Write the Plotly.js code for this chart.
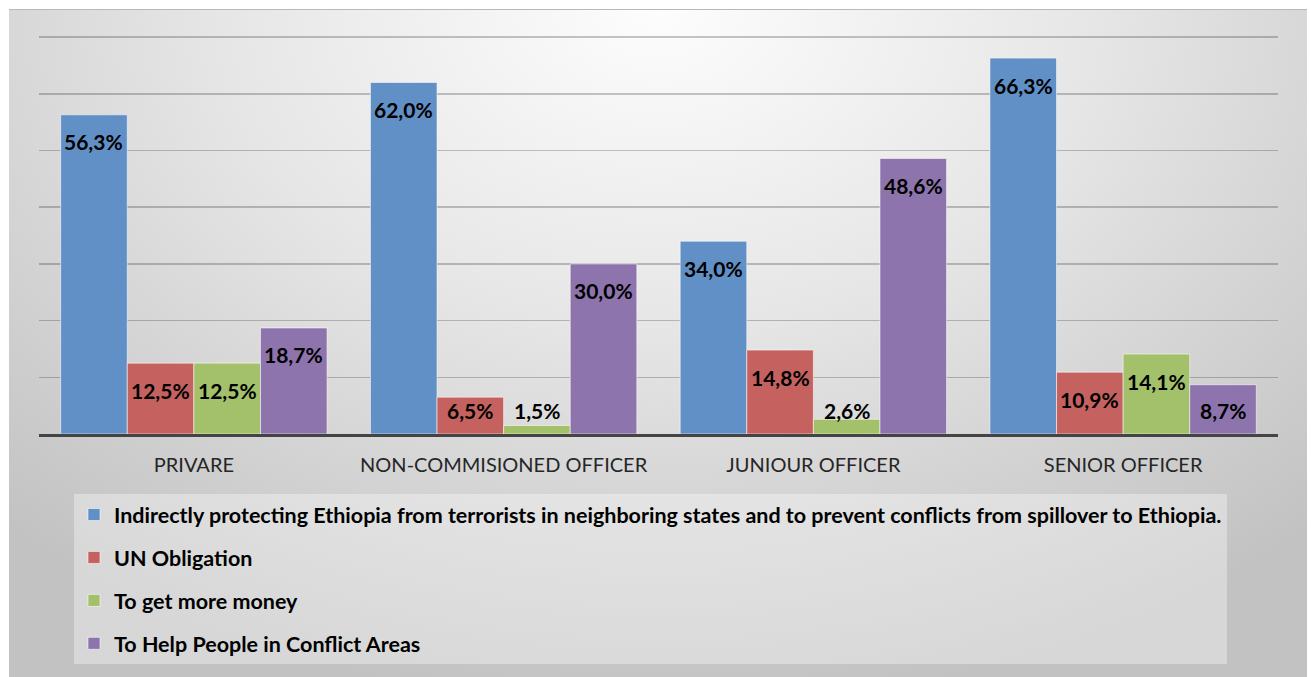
<!DOCTYPE html>
<html>
<head>
<meta charset="utf-8">
<script src="https://cdn.plot.ly/plotly-3.0.1.min.js"></script>
<style>
  html, body { margin: 0; padding: 0; background: #ffffff; }
  #bg {
    position: absolute; left: 9px; top: 9px; width: 1298px; height: 668px;
    border-top: 1px solid #b9b9b9; box-sizing: border-box;
    background: radial-gradient(ellipse 75% 105% at 50% 0%, #fdfdfd 0%, #e6e6e6 45%, #d2d2d2 75%, #c2c2c2 100%);
  }
  #chart { position: absolute; left: 0; top: 0; width: 1311px; height: 677px; }
</style>
</head>
<body>
<div id="bg"></div>
<div id="chart"></div>
<script>
const categories = ['PRIVARE', 'NON-COMMISIONED OFFICER', 'JUNIOUR OFFICER', 'SENIOR OFFICER'];
const seriesNames = [
  'Indirectly protecting Ethiopia from terrorists in neighboring states and to prevent conflicts from spillover to Ethiopia.',
  'UN Obligation',
  'To get more money',
  'To Help People in Conflict Areas'
];
const indirectlyProtecting = [56.3, 62.0, 34.0, 66.3];
const unObligation = [12.5, 6.5, 14.8, 10.9];
const moreMoney = [12.5, 1.5, 2.6, 14.1];
const helpPeople = [18.7, 30.0, 48.6, 8.7];

const seriesValues = [indirectlyProtecting, unObligation, moreMoney, helpPeople];
const colors = ['#6190c6', '#c5625f', '#a3c06a', '#8e74ad'];

const W = 1311, H = 677;
const margin = {l: 39, r: 33, t: 36, b: 243, autoexpand: false};
const yMax = 70.2;
const bargap = 0.14;
const plotW = W - margin.l - margin.r;
const plotH = H - margin.t - margin.b;
const ppu = plotH / yMax;
const slot = plotW / categories.length * (1 - bargap) / seriesValues.length;

const fmt = v => v.toFixed(1).replace('.', ',') + '%';
const FONT = 'Lato, "Open Sans", sans-serif';

const traces = seriesValues.map((vals, i) => ({
  type: 'bar',
  name: seriesNames[i],
  x: categories,
  y: vals,
  legendgroup: 'g' + i,
  marker: {color: colors[i], line: {color: 'rgba(255,255,255,0.55)', width: 1}},
  hoverinfo: 'x+y'
}));

const annotations = [];
seriesValues.forEach((vals, i) => {
  vals.forEach((v, j) => {
    const h = v * ppu;
    annotations.push({
      x: categories[j], y: v, xref: 'x', yref: 'y',
      xshift: (i - (seriesValues.length - 1) / 2) * slot,
      yshift: -Math.min(27, h - 24),
      yanchor: 'middle', xanchor: 'center',
      text: '<b>' + fmt(v) + '</b>',
      showarrow: false,
      font: {family: FONT, size: 21, color: '#000000'}
    });
  });
});

const layout = {
  width: W, height: H,
  margin: margin,
  paper_bgcolor: 'rgba(0,0,0,0)',
  plot_bgcolor: 'rgba(0,0,0,0)',
  barmode: 'group',
  bargap: bargap,
  bargroupgap: 0,
  showlegend: true,
  legend: {
    xref: 'container', yref: 'container',
    x: 74 / W, y: 1 - 494 / H, xanchor: 'left', yanchor: 'top',
    orientation: 'v',
    traceorder: 'grouped',
    tracegroupgap: 12,
    bgcolor: 'rgba(255,255,255,0.35)',
    borderwidth: 0,
    font: {family: FONT, size: 21.5, color: '#000000', weight: 'bold'}
  },
  xaxis: {
    type: 'category',
    showline: true, linecolor: '#444444', linewidth: 3,
    ticks: '', ticklabelstandoff: 11,
    tickfont: {family: FONT, size: 20, color: '#262626'},
    showgrid: false, zeroline: false
  },
  yaxis: {
    range: [0, yMax], tick0: 0, dtick: 10,
    showticklabels: false,
    showgrid: true, gridcolor: 'rgba(0,0,0,0.22)', gridwidth: 1.5,
    zeroline: false, showline: false, ticks: ''
  },
  annotations: annotations,
  font: {family: FONT}
};

Plotly.newPlot('chart', traces, layout, {displayModeBar: false, staticPlot: true});
</script>
</body>
</html>
